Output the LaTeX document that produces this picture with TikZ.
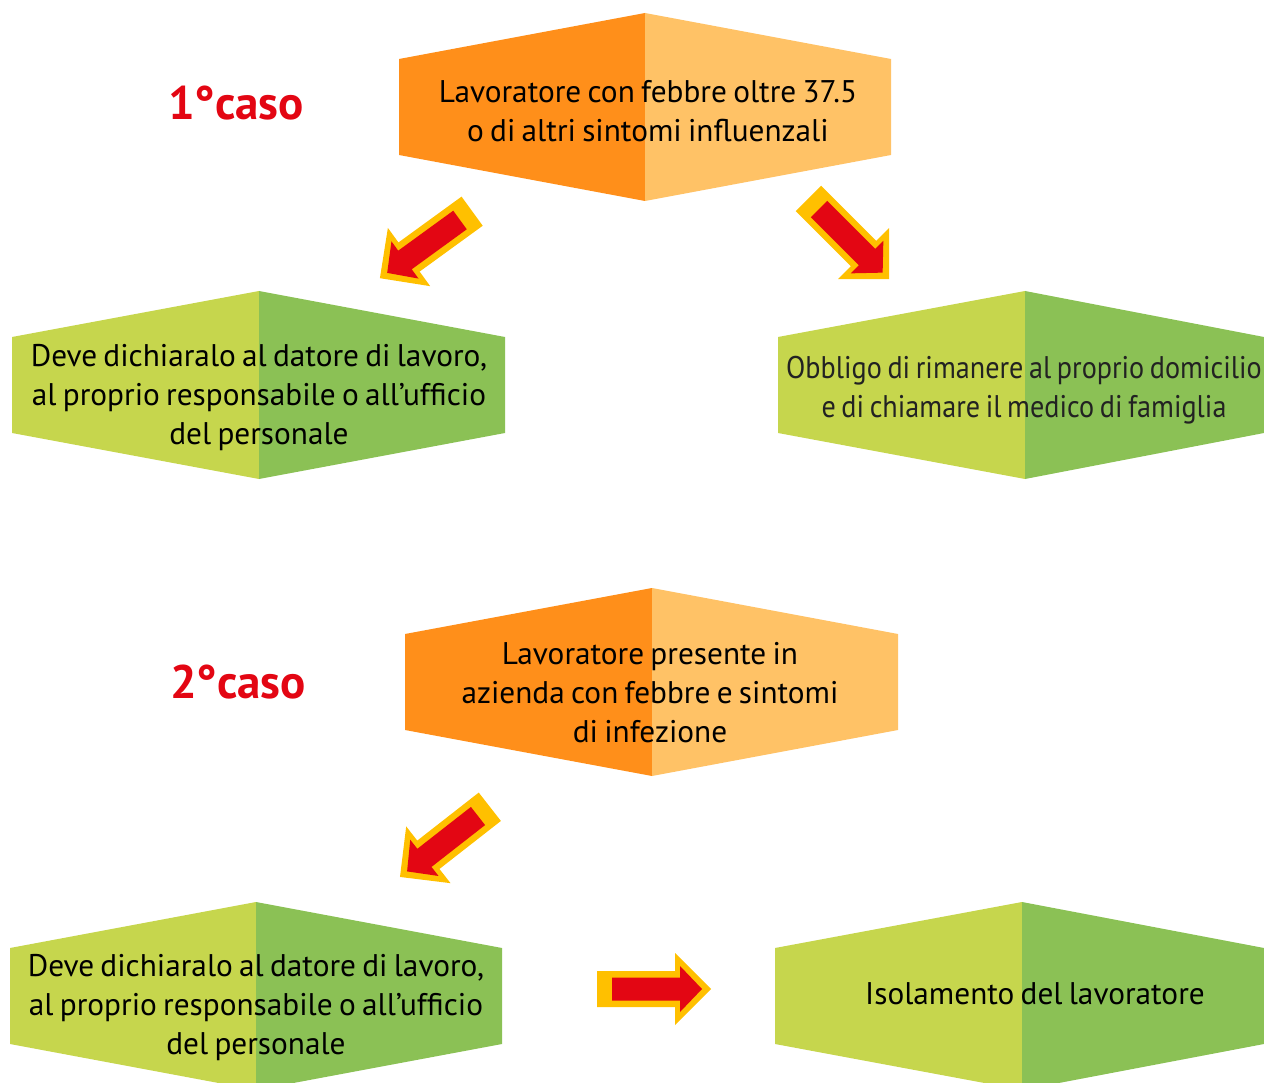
\documentclass[tikz,border=0pt]{standalone}
\usepackage{fontspec}
\setmainfont[WordSpace=0.75]{PT Sans}
\newfontfamily\condfont[WordSpace=0.75,FakeStretch=0.9]{PT Sans}
\definecolor{orL}{HTML}{FF8F1A}
\definecolor{orR}{HTML}{FFC266}
\definecolor{grL}{HTML}{C6D64D}
\definecolor{grR}{HTML}{8BC155}
\definecolor{arrY}{HTML}{FFC000}
\definecolor{arrR}{HTML}{E30613}
\definecolor{caseRed}{HTML}{E30613}
\definecolor{darkTxt}{HTML}{222222}
\newcommand\hexbox[6]{% cx, top, left, right, colL, colR
  \fill[#5] (#3,#2+46) -- (#1,#2) -- (#1,#2+188) -- (#3,#2+142) -- cycle;
  \fill[#6] (#4,#2+46) -- (#1,#2) -- (#1,#2+188) -- (#4,#2+142) -- cycle;
}
\newcommand\blockarr[3]{%
  \begin{scope}[shift={(#1,#2)},rotate=#3]
    \fill[arrY] (-15,-18) -- (63,-18) -- (63,-36) -- (99,0) -- (63,36) -- (63,18) -- (-15,18) -- cycle;
    \fill[arrR] (0,-11.5) -- (68,-11.5) -- (68,-23) -- (90,0) -- (68,23) -- (68,11.5) -- (0,11.5) -- cycle;
  \end{scope}}
\begin{document}
\begin{tikzpicture}[x=1pt,y=-1pt,
  txt/.style={align=center,inner sep=0pt,font=\fontsize{31.3}{39}\selectfont},
  ctxt/.style={align=center,inner sep=0pt,text=darkTxt,font=\condfont\fontsize{31.3}{39}\selectfont},
  casel/.style={text=caseRed,font=\fontsize{47}{52}\selectfont\bfseries,inner sep=0pt}]
\useasboundingbox (0,0) rectangle (1264,1083);
\clip (0,0) rectangle (1264,1083);
% boxes
\hexbox{645}{13}{399}{891}{orL}{orR}
\hexbox{259}{291}{12}{505}{grL}{grR}
\hexbox{1025}{291}{778}{1264}{grL}{grR}
\hexbox{652}{588}{405}{898}{orL}{orR}
\hexbox{256}{902}{10}{502}{grL}{grR}
\hexbox{1022}{902}{775}{1264}{grL}{grR}
% labels
\node[casel] (c1) at (236,103) {1°caso};
\node[casel] (c2) at (238,682) {2°caso};
% texts
\node[txt] (t1) at (648,111) {Lavoratore con febbre oltre 37.5\\o di altri sintomi influenzali};
\node[txt] (t2) at (259,398) {Deve dichiaralo al datore di lavoro,\\al proprio responsabile o all’ufficio\\del personale};
\node[ctxt] (t3) at (1024,390) {Obbligo di rimanere al proprio domicilio\\e di chiamare il medico di famiglia};
\node[txt] (t4) at (650,693) {Lavoratore presente in\\azienda con febbre e sintomi\\di infezione};
\node[txt] (t5) at (256,1008) {Deve dichiaralo al datore di lavoro,\\al proprio responsabile o all’ufficio\\del personale};
\node[txt] (t6) at (1035,994) {Isolamento del lavoratore};
% arrows
\blockarr{460}{220}{216}
\blockarr{819}{209}{-45}
\blockarr{478}{816}{218}
\blockarr{612}{989}{0}
\end{tikzpicture}
\end{document}
